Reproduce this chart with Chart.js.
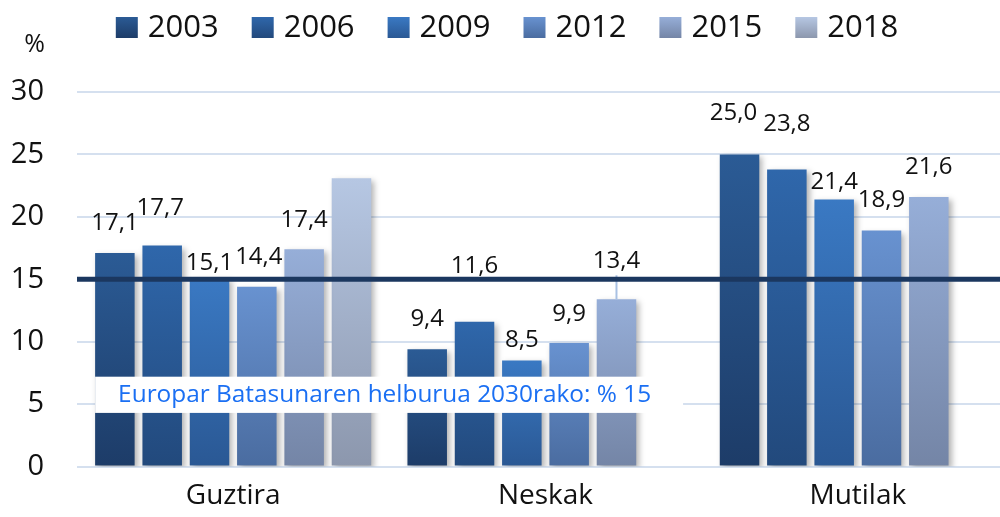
<!DOCTYPE html>
<html>
<head>
<meta charset="utf-8">
<script src="https://cdn.jsdelivr.net/npm/chart.js@4"></script>
<style>
  html, body { margin: 0; padding: 0; background: #ffffff; overflow: hidden; width: 1000px; height: 517px; }
  canvas { display: block; }
</style>
</head>
<body>
<canvas id="c" width="1014" height="517"></canvas>
<script>
// ---------- data ----------
const categories = ['Guztira', 'Neskak', 'Mutilak'];
const years = ['2003', '2006', '2009', '2012', '2015', '2018'];
const v2003 = [17.1, 9.4, 25.0];
const v2006 = [17.7, 11.6, 23.8];
const v2009 = [15.1, 8.5, 21.4];
const v2012 = [14.4, 9.9, 18.9];
const v2015 = [17.4, 13.4, 21.6];
const v2018 = [23.1, null, null];
const yTicks = [0, 5, 10, 15, 20, 25, 30];
const targetValue = 15;
const targetText = 'Europar Batasunaren helburua 2030rako: % 15';
const unitLabel = '%';

// ---------- styles ----------
const FONT = '"Open Sans", "DejaVu Sans", sans-serif';
const topColors = ['#2b5b95', '#2f67ab', '#3a79c3', '#6892d0', '#96aed8', '#b6c7e3'];
const bottomColors = ['#1d3c68', '#22497c', '#2a5894', '#4a6ca0', '#7485a6', '#8c97ad'];
// label lift above bar top in px (null = no label), per series then category
const labelLift = [
  [30, 30, 41],
  [37, 56, 45],
  [15, 20, 17],
  [30, 29, 30],
  [29, 38, 30],
  [null, null, null]
];
const labelShiftX = [[0, 0, -6], [-2, 0, 0], [0, 0, 0], [2, 0, 0], [0, 0, 0], [0, 0, 0]];
const leaderLines = [[4, 1]]; // [series, category]

function barFill(i) {
  return (ctx) => {
    const chart = ctx.chart;
    const ys = chart.scales && chart.scales.y;
    if (!ys || ctx.type !== 'data' || ctx.raw == null) return topColors[i];
    const yt = ys.getPixelForValue(ctx.raw);
    const yb = ys.getPixelForValue(0);
    if (!isFinite(yt) || !isFinite(yb) || yt === yb) return topColors[i];
    const g = chart.ctx.createLinearGradient(0, yt, 0, yb);
    g.addColorStop(0, topColors[i]);
    g.addColorStop(1, bottomColors[i]);
    return g;
  };
}

const seriesValues = [v2003, v2006, v2009, v2012, v2015, v2018];
const datasets = years.map((y, i) => ({
  label: y,
  data: seriesValues[i],
  backgroundColor: barFill(i),
  borderWidth: 0,
  categoryPercentage: 0.909,
  barPercentage: 0.835
}));

const fmt = (v) => v.toFixed(1).replace('.', ',');

const customPlugin = {
  id: 'custom',
  beforeDatasetsDraw(chart) {
    const c = chart.ctx;
    c.save();
    c.shadowColor = 'rgba(0,0,0,0.30)';
    c.shadowBlur = 6;
    c.shadowOffsetX = 3;
    c.shadowOffsetY = 3;
  },
  afterDatasetsDraw(chart) {
    const c = chart.ctx;
    c.restore();
    const ys = chart.scales.y;
    const area = chart.chartArea;

    // leader lines
    c.save();
    c.strokeStyle = '#a9c1e3';
    c.lineWidth = 2;
    leaderLines.forEach(([si, ci]) => {
      const el = chart.getDatasetMeta(si).data[ci];
      const lift = labelLift[si][ci];
      c.beginPath();
      c.moveTo(el.x, el.y - lift + 14);
      c.lineTo(el.x, el.y);
      c.stroke();
    });
    c.restore();

    // target line
    const yT = ys.getPixelForValue(targetValue);
    c.save();
    c.strokeStyle = '#1b375f';
    c.lineWidth = 5;
    c.beginPath();
    c.moveTo(area.left, yT);
    c.lineTo(chart.width, yT);
    c.stroke();
    c.restore();

    // text box
    const firstBar = chart.getDatasetMeta(0).data[0];
    const boxLeft = firstBar.x - firstBar.width / 2;
    const boxTop = ys.getPixelForValue(7.2);
    const boxBottom = ys.getPixelForValue(4.3);
    c.save();
    c.font = '24.4px ' + FONT;
    const tw = c.measureText(targetText).width;
    c.fillStyle = '#ffffff';
    c.fillRect(boxLeft, boxTop, 23 + tw + 32, boxBottom - boxTop);
    c.fillStyle = '#1a6ff3';
    c.textBaseline = 'middle';
    c.textAlign = 'left';
    c.fillText(targetText, boxLeft + 23, (boxTop + boxBottom) / 2);
    c.restore();

    // data labels
    c.save();
    c.font = '24px ' + FONT;
    c.fillStyle = '#111111';
    c.textAlign = 'center';
    c.textBaseline = 'middle';
    chart.data.datasets.forEach((ds, si) => {
      const meta = chart.getDatasetMeta(si);
      meta.data.forEach((el, ci) => {
        const v = ds.data[ci];
        const lift = labelLift[si][ci];
        if (v == null || lift == null) return;
        c.fillText(fmt(v), el.x + labelShiftX[si][ci], el.y - lift);
      });
    });
    c.restore();

    // unit label
    c.save();
    c.font = '25px ' + FONT;
    c.fillStyle = '#111111';
    c.textAlign = 'right';
    c.textBaseline = 'middle';
    c.fillText(unitLabel, area.left - 32, area.top - 47);
    c.restore();

    // legend
    c.save();
    c.font = '31px ' + FONT;
    const boxW = 22, boxH = 21, gap = 10, spacing = 33;
    const widths = years.map(y => boxW + gap + c.measureText(y).width);
    const total = widths.reduce((a, b) => a + b, 0) + spacing * (years.length - 1);
    let x = chart.width / 2 - total / 2;
    const boxY = 17;
    years.forEach((y, i) => {
      const g = c.createLinearGradient(0, boxY, 0, boxY + boxH);
      g.addColorStop(0, topColors[i]);
      g.addColorStop(1, bottomColors[i]);
      c.fillStyle = g;
      c.fillRect(x, boxY, boxW, boxH);
      c.fillStyle = '#111111';
      c.textAlign = 'left';
      c.textBaseline = 'middle';
      c.fillText(y, x + boxW + gap, boxY + boxH / 2 + 1);
      x += widths[i] + spacing;
    });
    c.restore();
  }
};

new Chart(document.getElementById('c'), {
  type: 'bar',
  data: { labels: categories, datasets },
  options: {
    responsive: false,
    animation: false,
    devicePixelRatio: 1,
    layout: { padding: { top: 92, left: 0, right: 0, bottom: 0 } },
    plugins: {
      legend: { display: false },
      tooltip: { enabled: false },
      title: { display: false }
    },
    scales: {
      x: {
        grid: { display: false },
        border: { display: false },
        ticks: { font: { family: FONT, size: 28 }, color: '#111111', padding: 5 },
        afterFit: (s) => { s.height = 47; }
      },
      y: {
        min: 0,
        max: 30,
        afterBuildTicks: (s) => { s.ticks = yTicks.map(v => ({ value: v })); },
        grid: { color: '#d5e0ef', lineWidth: 2, drawTicks: false },
        border: { display: false },
        ticks: { font: { family: FONT, size: 29 }, color: '#111111', padding: 33 },
        afterFit: (s) => { s.width = 77; }
      }
    }
  },
  plugins: [customPlugin]
});
</script>
</body>
</html>
